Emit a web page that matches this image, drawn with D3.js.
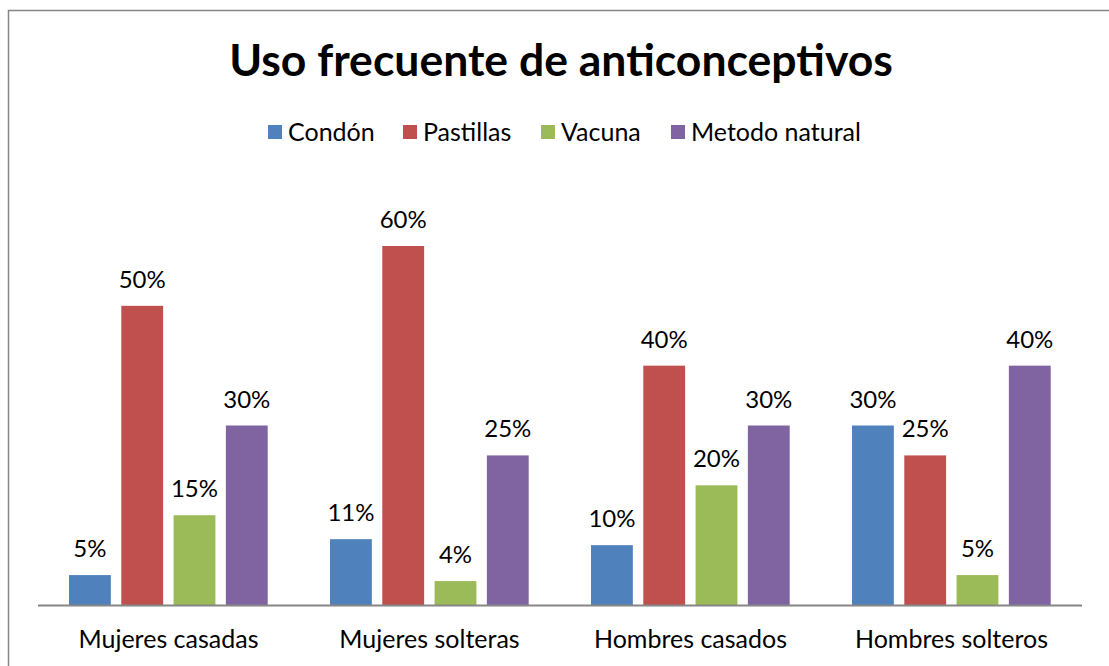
<!DOCTYPE html>
<html>
<head>
<meta charset="utf-8">
<script src="https://cdn.jsdelivr.net/npm/d3@7"></script>
<style>
  body { margin: 0; background: #fff; }
  svg text { font-family: Lato, "Open Sans", sans-serif; fill: #000; }
</style>
</head>
<body>
<div id="chart"></div>
<script>
// Chart data
const title = "Uso frecuente de anticonceptivos";
const categories = ["Mujeres casadas", "Mujeres solteras", "Hombres casados", "Hombres solteros"];
const seriesNames = ["Condón", "Pastillas", "Vacuna", "Metodo natural"];
const seriesColors = ["#4F81BD", "#C0504D", "#9BBB59", "#8064A2"];
// values per series, in the order of categories (percent)
const condon = [5, 11, 10, 30];
const pastillas = [50, 60, 40, 25];
const vacuna = [15, 4, 20, 5];
const natural = [30, 25, 30, 40];
const seriesValues = [condon, pastillas, vacuna, natural];

const width = 1109, height = 666;
const svg = d3.select("#chart").append("svg")
    .attr("width", width)
    .attr("height", height);

// chart border (runs past the right/bottom edge like the original)
svg.append("rect")
    .attr("x", 8.5).attr("y", 10.5)
    .attr("width", 1200).attr("height", 800)
    .attr("fill", "none")
    .attr("stroke", "#868686")
    .attr("stroke-width", 1.5);

// --------------------------------------
// Scales
const plotLeft = 38, plotRight = 1082, baseY = 605;
const x0 = d3.scaleBand().domain(categories).range([plotLeft, plotRight]);
const x1 = d3.scaleBand().domain(seriesNames)
    .range([31, 229.7]).paddingInner(0.2).paddingOuter(0);
const y = d3.scaleLinear().domain([0, 60]).range([baseY, 246]);

// flatten into rows for drawing
const rows = [];
categories.forEach((c, ci) => {
    seriesNames.forEach((s, si) => {
        rows.push({ cat: c, series: s, color: seriesColors[si], value: seriesValues[si][ci] });
    });
});

// --------------------------------------
// Bars
svg.append("g")
    .selectAll("rect")
    .data(rows)
    .join("rect")
    .attr("x", d => x0(d.cat) + x1(d.series))
    .attr("y", d => y(d.value))
    .attr("width", x1.bandwidth())
    .attr("height", d => baseY - y(d.value))
    .attr("fill", d => d.color);

// Data labels
svg.append("g")
    .selectAll("text")
    .data(rows)
    .join("text")
    .attr("x", d => x0(d.cat) + x1(d.series) + x1.bandwidth() / 2)
    .attr("y", d => y(d.value) - 18)
    .attr("text-anchor", "middle")
    .style("font-size", "24px")
    .text(d => d.value + "%");

// Baseline axis
svg.append("line")
    .attr("x1", plotLeft).attr("x2", plotRight)
    .attr("y1", baseY + 0.5).attr("y2", baseY + 0.5)
    .attr("stroke", "#868686")
    .attr("stroke-width", 2);

// Category labels
svg.append("g")
    .selectAll("text")
    .data(categories)
    .join("text")
    .attr("x", d => x0(d) + x0.bandwidth() / 2)
    .attr("y", 648)
    .attr("text-anchor", "middle")
    .style("font-size", "25px")
    .text(d => d);

// --------------------------------------
// Title
svg.append("text")
    .attr("x", 561)
    .attr("y", 76)
    .attr("text-anchor", "middle")
    .style("font-size", "44.5px")
    .style("font-weight", "bold")
    .text(title);

// Legend
const legendX = [268, 403, 541, 671];
const legend = svg.append("g")
    .selectAll("g")
    .data(seriesNames)
    .join("g")
    .attr("transform", (d, i) => `translate(${legendX[i]},0)`);
legend.append("rect")
    .attr("x", 0).attr("y", 125)
    .attr("width", 14).attr("height", 14)
    .attr("fill", (d, i) => seriesColors[i]);
legend.append("text")
    .attr("x", 20).attr("y", 141)
    .style("font-size", "25px")
    .text(d => d);
</script>
</body>
</html>
